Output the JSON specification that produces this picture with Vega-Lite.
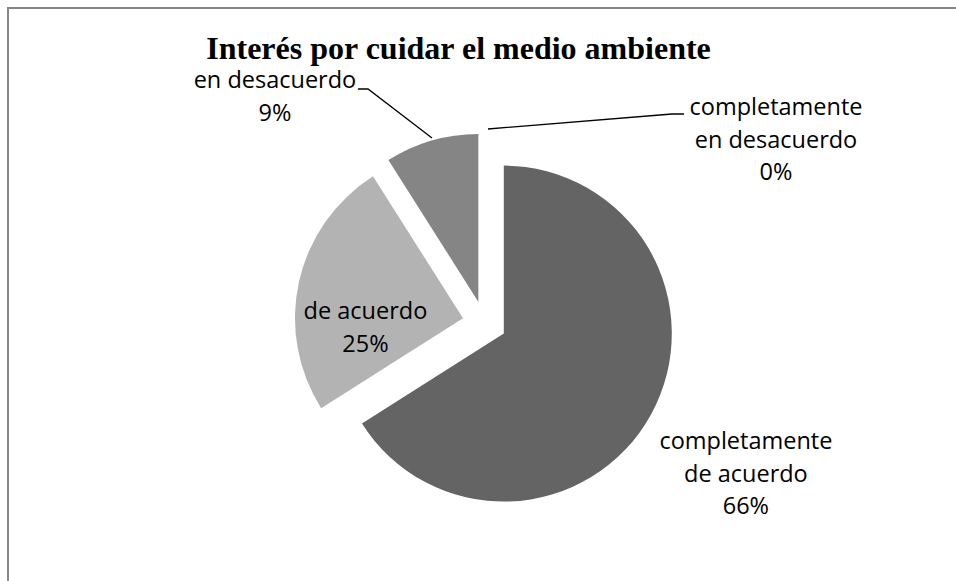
{
  "$schema": "https://vega.github.io/schema/vega-lite/v6.json",
  "width": 953,
  "height": 630,
  "autosize": {"type": "none"},
  "padding": {"left": 8, "top": 8, "right": 0, "bottom": 0},
  "background": "white",
  "view": {"stroke": "#878787", "strokeWidth": 2},
  "title": {
    "text": "Interés por cuidar el medio ambiente",
    "anchor": "middle",
    "frame": "group",
    "offset": -80,
    "dx": -26,
    "font": "Liberation Serif",
    "fontSize": 32,
    "fontWeight": "bold",
    "color": "#000000"
  },
  "datasets": {
    "slices": [
      {"category": "completamente de acuerdo", "value": 66, "label": "completamente\nde acuerdo\n66%"},
      {"category": "de acuerdo", "value": 25, "label": "de acuerdo\n25%"},
      {"category": "en desacuerdo", "value": 9, "label": "en desacuerdo\n9%"},
      {"category": "completamente en desacuerdo", "value": 0, "label": "completamente\nen desacuerdo\n0%"}
    ],
    "leaders": [
      {"leader": "en desacuerdo", "step": 1, "px": -126.5, "py": 234},
      {"leader": "en desacuerdo", "step": 2, "px": -116.5, "py": 234},
      {"leader": "en desacuerdo", "step": 3, "px": -52.5, "py": 185},
      {"leader": "completamente en desacuerdo", "step": 1, "px": 3.5, "py": 194},
      {"leader": "completamente en desacuerdo", "step": 2, "px": 187.5, "py": 209},
      {"leader": "completamente en desacuerdo", "step": 3, "px": 199.5, "py": 209}
    ]
  },
  "layer": [
    {
      "data": {"name": "slices"},
      "transform": [
        {"stack": "value", "groupby": [], "sort": [{"field": "value", "order": "descending"}], "as": ["v0", "v1"]},
        {"filter": "datum.category === 'completamente de acuerdo'"}
      ],
      "mark": {"type": "arc", "radius": 168, "xOffset": 19.3, "yOffset": 10.6, "fill": "#646464"},
      "encoding": {
        "theta": {"field": "v0", "type": "quantitative", "scale": {"domain": [0, 100]}},
        "theta2": {"field": "v1"}
      }
    },
    {
      "data": {"name": "slices"},
      "transform": [
        {"stack": "value", "groupby": [], "sort": [{"field": "value", "order": "descending"}], "as": ["v0", "v1"]},
        {"filter": "datum.category === 'de acuerdo'"}
      ],
      "mark": {"type": "arc", "radius": 168, "xOffset": -21.5, "yOffset": -4.8, "fill": "#b3b3b3"},
      "encoding": {
        "theta": {"field": "v0", "type": "quantitative", "scale": {"domain": [0, 100]}},
        "theta2": {"field": "v1"}
      }
    },
    {
      "data": {"name": "slices"},
      "transform": [
        {"stack": "value", "groupby": [], "sort": [{"field": "value", "order": "descending"}], "as": ["v0", "v1"]},
        {"filter": "datum.category === 'en desacuerdo'"}
      ],
      "mark": {"type": "arc", "radius": 168, "xOffset": -6.1, "yOffset": -21.1, "fill": "#858585"},
      "encoding": {
        "theta": {"field": "v0", "type": "quantitative", "scale": {"domain": [0, 100]}},
        "theta2": {"field": "v1"}
      }
    },
    {
      "data": {"name": "leaders"},
      "mark": {"type": "line", "stroke": "#000000", "strokeWidth": 1.3},
      "encoding": {
        "x": {"field": "px", "type": "quantitative", "scale": {"domain": [-476.5, 476.5], "nice": false, "zero": false}, "axis": null},
        "y": {"field": "py", "type": "quantitative", "scale": {"domain": [-315, 315], "nice": false, "zero": false}, "axis": null},
        "detail": {"field": "leader"},
        "order": {"field": "step"}
      }
    },
    {
      "data": {"name": "slices"},
      "mark": {"type": "text", "radius": 300, "dx": -1.5, "dy": -25.5, "font": "Open Sans", "fontSize": 23.5, "lineHeight": 32.5, "lineBreak": "\n", "align": "center", "baseline": "middle", "color": "#000000"},
      "encoding": {
        "theta": {"field": "value", "type": "quantitative", "stack": true, "scale": {"domain": [0, 100]}},
        "order": {"field": "value", "type": "quantitative", "sort": "descending"},
        "text": {"condition": {"test": "datum.category === 'completamente de acuerdo'", "field": "label"}, "value": ""}
      }
    },
    {
      "data": {"name": "slices"},
      "mark": {"type": "text", "radius": 122, "dx": 0, "dy": 16, "font": "Open Sans", "fontSize": 23.5, "lineHeight": 32.5, "lineBreak": "\n", "align": "center", "baseline": "middle", "color": "#000000"},
      "encoding": {
        "theta": {"field": "value", "type": "quantitative", "stack": true, "scale": {"domain": [0, 100]}},
        "order": {"field": "value", "type": "quantitative", "sort": "descending"},
        "text": {"condition": {"test": "datum.category === 'de acuerdo'", "field": "label"}, "value": ""}
      }
    },
    {
      "data": {"name": "slices"},
      "mark": {"type": "text", "radius": 235, "dx": -144, "dy": -16, "font": "Open Sans", "fontSize": 23.5, "lineHeight": 32.5, "lineBreak": "\n", "align": "center", "baseline": "middle", "color": "#000000"},
      "encoding": {
        "theta": {"field": "value", "type": "quantitative", "stack": true, "scale": {"domain": [0, 100]}},
        "order": {"field": "value", "type": "quantitative", "sort": "descending"},
        "text": {"condition": {"test": "datum.category === 'en desacuerdo'", "field": "label"}, "value": ""}
      }
    },
    {
      "data": {"name": "slices"},
      "mark": {"type": "text", "radius": 183, "dx": 291.5, "dy": -32, "font": "Open Sans", "fontSize": 23.5, "lineHeight": 32.5, "lineBreak": "\n", "align": "center", "baseline": "middle", "color": "#000000"},
      "encoding": {
        "theta": {"field": "value", "type": "quantitative", "stack": true, "scale": {"domain": [0, 100]}},
        "order": {"field": "value", "type": "quantitative", "sort": "descending"},
        "text": {"condition": {"test": "datum.category === 'completamente en desacuerdo'", "field": "label"}, "value": ""}
      }
    }
  ]
}
